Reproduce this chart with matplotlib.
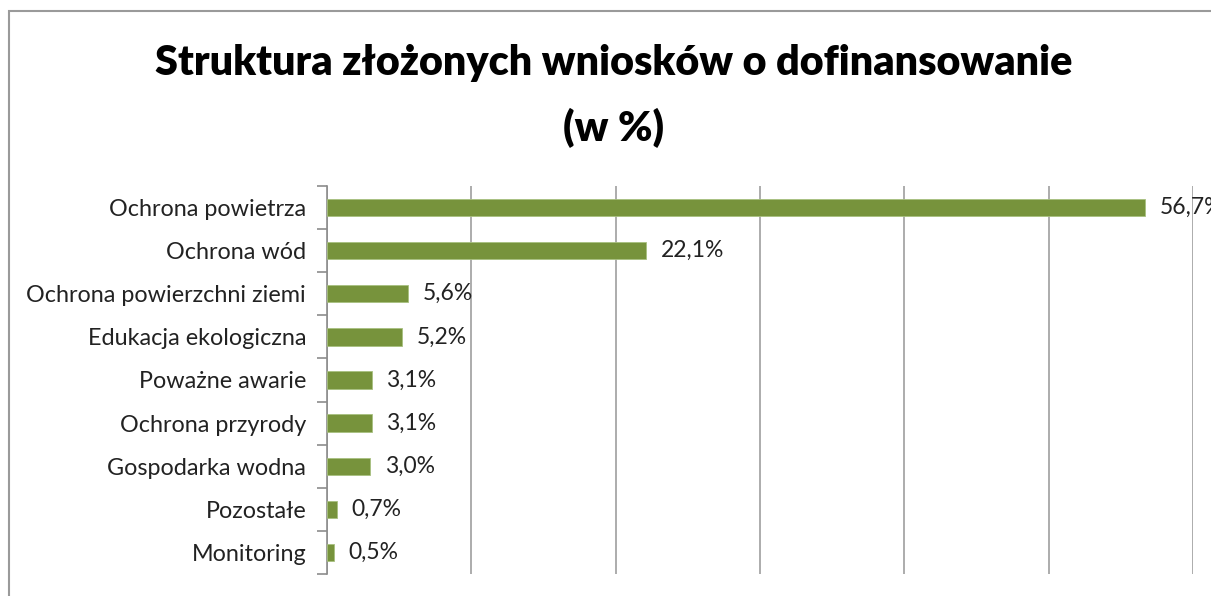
import matplotlib
matplotlib.use("Agg")
import matplotlib.pyplot as plt
from matplotlib.patches import Rectangle
import numpy as np

categories = ["Ochrona powietrza", "Ochrona wód", "Ochrona powierzchni ziemi",
              "Edukacja ekologiczna", "Poważne awarie", "Ochrona przyrody",
              "Gospodarka wodna", "Pozostałe", "Monitoring"]
values = [56.7, 22.1, 5.6, 5.2, 3.1, 3.1, 3.0, 0.7, 0.5]
value_labels = ["56,7%", "22,1%", "5,6%", "5,2%", "3,1%", "3,1%", "3,0%", "0,7%", "0,5%"]
title = "Struktura złożonych wniosków o dofinansowanie\n(w %)"

plt.rcParams['font.family'] = ['Lato', 'DejaVu Sans']

W, H = 1211, 596
fig = plt.figure(figsize=(W/100, H/100), dpi=100)

# outer frame
fig.patches.append(Rectangle((9/W, -0.1), 1.2, (H-11)/H + 0.1, transform=fig.transFigure,
                             fill=False, edgecolor="#9a9a9a", linewidth=1.5))

ax = fig.add_axes([327/W, (H-574)/H, (1193-327)/W, (574-186)/H])
y = np.arange(len(categories))
ax.barh(y, values, height=0.4, color="#77933C", edgecolor="#a8c080", linewidth=0.6, zorder=3)
ax.set_xlim(0, 60)
ax.set_ylim(len(categories)-0.5, -0.5)
ax.set_xticks(np.arange(0, 61, 10))
ax.xaxis.grid(True, color="#a6a6a6", linewidth=1.3)
ax.tick_params(axis='x', length=0, labelbottom=False)
ax.set_yticks(y)
ax.set_yticklabels(categories, fontsize=16.8, color="#222222")
ax.tick_params(axis='y', which='major', length=0, pad=15)
ax.set_yticks(np.arange(-0.5, len(categories)), minor=True)
ax.tick_params(axis='y', which='minor', length=7, width=1.2, color="#8c8c8c", direction='out')
for s in ["top", "right", "bottom"]:
    ax.spines[s].set_visible(False)
ax.spines["left"].set_color("#8c8c8c")
ax.spines["left"].set_linewidth(1.2)

for yi, v, lab in zip(y, values, value_labels):
    ax.annotate(lab, (v, yi), xytext=(10.5, 0), textcoords="offset points",
                va="center", ha="left", fontsize=16.5, color="#222222",
                annotation_clip=False)

fig.text(0.5066, (H-96)/H, title, ha="center", va="center", fontsize=29.8,
         fontweight="heavy", linespacing=1.78)

fig.savefig("out.png", dpi=100)
